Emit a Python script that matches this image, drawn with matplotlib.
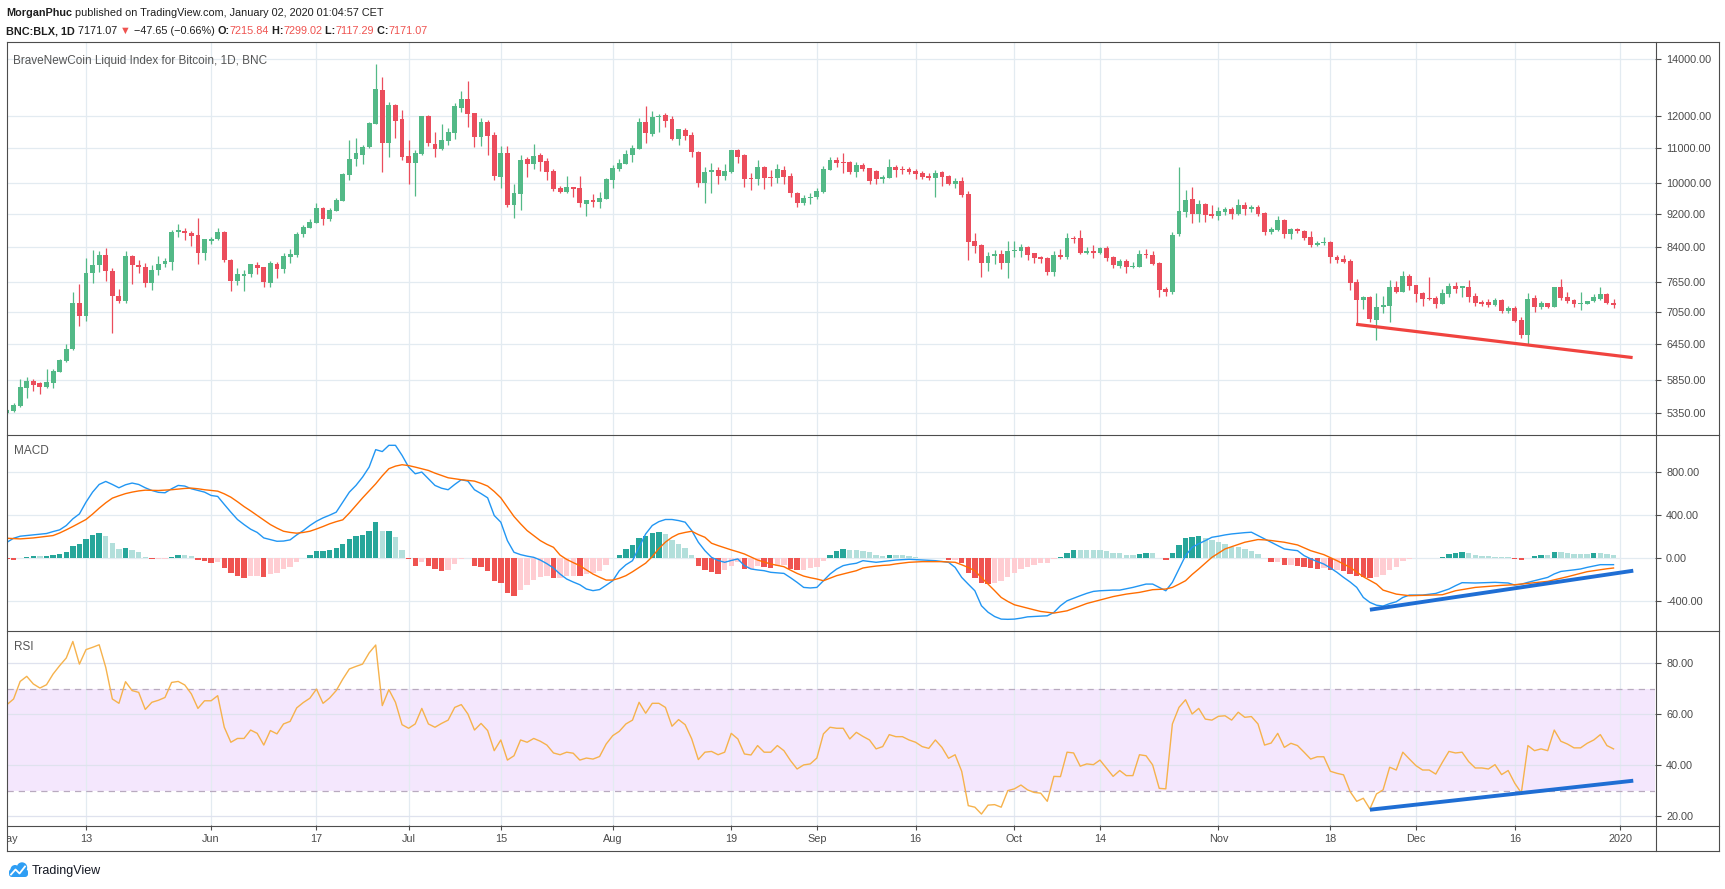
import numpy as np
import matplotlib
matplotlib.use("Agg")
import matplotlib.pyplot as plt
from matplotlib.patches import Circle, FancyBboxPatch
from matplotlib.ticker import NullLocator

# ---- data: BNC:BLX daily candles, 2019-05-01 .. 2019-12-31 (one entry per day)
opens = [
    5350, 5390, 5457, 5736, 5840, 5804, 5751, 5815, 5991, 6173,
    6366, 7213, 6976, 7826, 7998, 8218, 7883, 7366, 7265, 8195,
    8012, 7962, 7630, 7897, 8026, 8078, 8756, 8787, 8732, 8686,
    8278, 8553, 8592, 8756, 8114, 7671, 7770, 7812, 8005, 7962,
    7630, 8026, 7918, 8188, 8225, 8700, 8852, 8981, 9347, 9063,
    9280, 9535, 10232, 10669, 10805, 11020, 11757, 12876, 11142, 12365,
    11900, 10765, 10572, 10824, 12000, 11120, 10980, 11220, 11467, 12280,
    12567, 12100, 11340, 11806, 11397, 10177, 10843, 9432, 9718, 10678,
    10543, 10785, 10620, 10334, 9859, 9762, 9886, 9859, 9448, 9552,
    9500, 9587, 10093, 10400, 10543, 10805, 10981, 11806, 11433, 11960,
    12030, 11900, 11276, 11552, 11397, 10882, 10012, 10295, 10362, 10204,
    10316, 10940, 10794, 10139, 10104, 10446, 10168, 10150, 10362, 10186,
    9727, 9482, 9600, 9622, 9771, 10362, 10649, 10591, 10591, 10315,
    10505, 10418, 10334, 10104, 10150, 10446, 10400, 10400, 10334, 10278,
    10186, 10131, 10307, 10186, 9985, 10058, 9700, 8545, 8450, 8055,
    8203, 8247, 8055, 8315, 8323, 8398, 8262, 8188, 8166, 7862,
    8225, 8188, 8608, 8608, 8277, 8315, 8262, 8390, 8188, 7983,
    8092, 7969, 7969, 8247, 8225, 8055, 7507, 7446, 8710, 9250,
    9578, 9203, 9448, 9195, 9145, 9245, 9320, 9203, 9424, 9330,
    9373, 9220, 8764, 8803, 9046, 8710, 8827, 8788, 8647, 8459,
    8490, 8521, 8188, 8136, 8092, 7643, 7279, 7346, 6894, 7143,
    7162, 7533, 7446, 7770, 7574, 7420, 7326, 7326, 7206, 7400,
    7561, 7520, 7540, 7359, 7246, 7240, 7180, 7279, 7072, 7123,
    6894, 6619, 7313, 7149, 7213, 7149, 7540, 7333, 7286, 7200,
    7206, 7266, 7299, 7400, 7215.84]
highs = [
    5410, 5506, 5867, 5911, 5867, 5830, 6034, 6034, 6200, 6460,
    7433, 7600, 8150, 8338, 8315, 8375, 7950, 7493, 8315, 8230,
    8120, 8041, 8005, 8203, 8150, 8803, 8950, 8840, 8780, 9087,
    8600, 8647, 8852, 8770, 8130, 7940, 7897, 8026, 8070, 7969,
    8085, 8070, 8262, 8360, 8756, 8925, 9080, 9474, 9380, 9347,
    9600, 10270, 11230, 11290, 11100, 11806, 13820, 13330, 12470, 12400,
    12200, 11230, 10950, 12000, 12030, 11480, 11740, 11610, 12430, 12850,
    13190, 12100, 11940, 11870, 11500, 11050, 11070, 9985, 10800, 10745,
    11120, 10843, 10700, 10400, 9920, 10195, 9900, 10195, 9552, 9710,
    9760, 10150, 10500, 10690, 10940, 11100, 11950, 12330, 12150, 12070,
    12100, 11990, 11585, 11600, 11480, 10900, 10456, 10553, 10456, 10533,
    10950, 10960, 10824, 10269, 10660, 10475, 10362, 10533, 10475, 10269,
    9770, 9680, 9727, 9860, 10480, 10745, 10730, 10843, 10620, 10600,
    10553, 10430, 10362, 10220, 10670, 10505, 10475, 10456, 10400, 10325,
    10269, 10362, 10343, 10230, 10130, 10160, 9780, 8725, 8470, 8300,
    8338, 8338, 8545, 8545, 8480, 8430, 8280, 8200, 8188, 8315,
    8368, 8725, 8670, 8803, 8398, 8445, 8413, 8430, 8200, 8130,
    8130, 8070, 8338, 8360, 8315, 8070, 7530, 8750, 10456, 9815,
    9904, 9552, 9470, 9430, 9380, 9380, 9380, 9585, 9510, 9420,
    9420, 9250, 8884, 9146, 9060, 8860, 8850, 8800, 8780, 8540,
    8630, 8540, 8220, 8225, 8130, 7700, 7360, 7360, 7413, 7360,
    7685, 7660, 7880, 7810, 7590, 7430, 7755, 7360, 7500, 7616,
    7640, 7570, 7685, 7413, 7279, 7290, 7320, 7290, 7160, 7160,
    6957, 7425, 7380, 7250, 7226, 7547, 7700, 7440, 7299, 7440,
    7266, 7390, 7547, 7413, 7299.02]
lows = [
    5335, 5374, 5443, 5582, 5690, 5643, 5736, 5736, 5980, 6150,
    6355, 6788, 6875, 7630, 7855, 7671, 6660, 7226, 7226, 7595,
    7826, 7547, 7480, 7790, 7969, 7897, 8647, 8569, 8430, 8033,
    8114, 8466, 8560, 8078, 7467, 7590, 7467, 7755, 7805, 7540,
    7540, 7735, 7840, 8050, 8188, 8630, 8852, 8965, 8920, 9030,
    9280, 9520, 10084, 10475, 10533, 10990, 11740, 10315, 10745, 11300,
    10649, 9985, 9660, 10790, 11060, 10745, 10950, 11080, 11280, 12130,
    11650, 11020, 11060, 10790, 10084, 9880, 9380, 9104, 9296, 10177,
    10400, 10334, 10084, 9800, 9727, 9745, 9639, 9380, 9155, 9360,
    9345, 9580, 9860, 10340, 10543, 10600, 10981, 11142, 11370, 11480,
    11660, 11243, 11100, 11243, 10745, 9904, 9480, 9727, 9985, 10084,
    10269, 10553, 9904, 9815, 9950, 9840, 9930, 10003, 9985, 9620,
    9380, 9420, 9460, 9590, 9745, 10362, 10456, 10269, 10250, 10177,
    10343, 9985, 9985, 9994, 10150, 10177, 10250, 10250, 10103, 10103,
    10084, 9640, 9920, 9960, 9860, 9640, 8114, 8262, 7755, 7880,
    8026, 7910, 7730, 8188, 8188, 8114, 8041, 8041, 7790, 7770,
    8130, 8130, 8490, 8247, 8247, 8150, 8247, 8100, 7930, 7940,
    7840, 7950, 7969, 8150, 8000, 7330, 7350, 7400, 8650, 9110,
    8965, 9000, 9000, 9100, 9050, 9180, 9080, 9170, 9170, 9250,
    9145, 8690, 8710, 8790, 8610, 8585, 8725, 8569, 8398, 8430,
    8445, 8041, 8041, 8041, 7480, 6813, 7110, 6860, 6528, 7020,
    6860, 7413, 7430, 7480, 7246, 7160, 7279, 7120, 7190, 7346,
    7413, 7346, 7240, 7160, 7160, 7150, 7160, 7020, 7020, 6850,
    6570, 6460, 7050, 7100, 7130, 7135, 7270, 7210, 7150, 7084,
    7190, 7246, 7280, 7200, 7117.29]
closes = [
    5398, 5472, 5741, 5840, 5778, 5751, 5820, 6001, 6184, 6372,
    7213, 6976, 7826, 7998, 8218, 7883, 7366, 7265, 8195, 8012,
    7962, 7630, 7897, 8026, 8092, 8756, 8803, 8732, 8670, 8278,
    8592, 8592, 8756, 8114, 7671, 7812, 7812, 8026, 7947, 7650,
    8055, 7918, 8203, 8247, 8709, 8884, 8997, 9347, 9079, 9296,
    9552, 10250, 10678, 10853, 11020, 11786, 12914, 11142, 12365, 11849,
    10745, 10572, 10843, 12000, 11164, 10980, 11243, 11501, 12330, 12567,
    12066, 11340, 11806, 11372, 10205, 10843, 9432, 9727, 10649, 10543,
    10765, 10600, 10315, 9841, 9762, 9886, 9841, 9482, 9552, 9500,
    9604, 10112, 10418, 10553, 10824, 11001, 11806, 11467, 11968, 12000,
    11849, 11276, 11585, 11372, 10872, 10012, 10307, 10362, 10204, 10334,
    10940, 10745, 10121, 10104, 10446, 10150, 10150, 10390, 10177, 9727,
    9482, 9613, 9639, 9797, 10390, 10649, 10572, 10572, 10315, 10505,
    10400, 10066, 10104, 10177, 10446, 10362, 10362, 10307, 10250, 10177,
    10131, 10278, 10177, 9985, 10058, 9683, 8521, 8430, 8055, 8203,
    8247, 8055, 8315, 8338, 8398, 8225, 8166, 8136, 7862, 8225,
    8188, 8616, 8585, 8262, 8315, 8277, 8390, 8166, 8005, 8092,
    7969, 7983, 8247, 8225, 8026, 7480, 7446, 8686, 9266, 9552,
    9203, 9448, 9170, 9145, 9270, 9320, 9203, 9432, 9314, 9373,
    9203, 8764, 8827, 9046, 8710, 8827, 8788, 8624, 8459, 8505,
    8521, 8188, 8114, 8063, 7630, 7279, 7346, 6907, 7143, 7180,
    7533, 7446, 7770, 7567, 7406, 7299, 7299, 7206, 7420, 7561,
    7507, 7554, 7346, 7226, 7206, 7180, 7286, 7072, 7123, 6875,
    6619, 7299, 7149, 7226, 7149, 7540, 7326, 7266, 7194, 7220,
    7266, 7346, 7400, 7219, 7171.07]

macd = [
    149, 186, 205, 211, 217, 222, 230, 248, 264, 304,
    366, 412, 521, 614, 685, 713, 685, 654, 682, 698,
    685, 654, 629, 612, 608, 645, 676, 670, 645, 630,
    614, 583, 574, 500, 428, 360, 313, 270, 240, 189,
    174, 158, 160, 171, 217, 257, 304, 344, 375, 400,
    428, 521, 614, 676, 753, 846, 1008, 990, 1048, 1048,
    955, 846, 784, 800, 738, 676, 650, 636, 685, 729,
    716, 636, 600, 561, 397, 335, 164, 56, 34, 20,
    9, -16, -50, -90, -146, -192, -220, -245, -285, -300,
    -290, -250, -208, -115, -60, -22, 102, 226, 304, 340,
    360, 360, 350, 335, 257, 149, 71, 9, -20, -37,
    -20, -6, -68, -99, -108, -115, -130, -135, -140, -180,
    -223, -270, -275, -270, -208, -146, -100, -68, -55, -46,
    -22, -30, -37, -30, -22, -16, -12, -9, -12, -16,
    -19, -22, -30, -37, -84, -177, -240, -301, -440, -500,
    -540, -564, -566, -564, -555, -543, -540, -536, -533, -502,
    -440, -394, -370, -347, -325, -307, -301, -298, -295, -295,
    -283, -270, -255, -239, -239, -270, -301, -223, -99, 25,
    102, 135, 164, 195, 205, 217, 226, 232, 238, 242,
    211, 180, 149, 118, 87, 78, 71, 25, -5, -30,
    -53, -90, -130, -177, -220, -270, -363, -409, -435, -443,
    -420, -403, -363, -341, -341, -341, -333, -326, -305, -285,
    -254, -226, -228, -229, -227, -225, -223, -226, -229, -248,
    -240, -223, -208, -192, -177, -145, -122, -115, -107, -99,
    -84, -72, -59, -59, -59]
signal = [
    186, 183, 180, 184, 189, 196, 203, 211, 235, 264,
    295, 328, 360, 410, 465, 515, 558, 580, 600, 614,
    625, 632, 631, 629, 632, 636, 642, 648, 651, 645,
    636, 630, 623, 598, 567, 525, 480, 440, 397, 355,
    313, 280, 251, 240, 233, 240, 251, 272, 295, 320,
    340, 357, 420, 490, 560, 625, 691, 765, 831, 855,
    868, 860, 846, 830, 815, 790, 768, 747, 738, 729,
    722, 716, 695, 670, 620, 561, 475, 388, 320, 257,
    210, 164, 130, 102, 30, -10, -40, -68, -108, -146,
    -175, -202, -202, -185, -161, -125, -85, -45, 15, 90,
    150, 195, 226, 240, 251, 220, 195, 140, 118, 98,
    78, 60, 40, 12, -16, -35, -53, -66, -78, -110,
    -140, -165, -180, -192, -208, -185, -161, -145, -130, -115,
    -90, -80, -72, -66, -62, -52, -44, -37, -34, -31,
    -31, -31, -31, -34, -37, -60, -85, -115, -180, -239,
    -300, -363, -400, -431, -447, -462, -478, -493, -500, -508,
    -498, -487, -465, -442, -419, -403, -388, -370, -355, -343,
    -332, -324, -316, -303, -291, -288, -285, -270, -240, -208,
    -150, -99, -45, 9, 48, 87, 108, 128, 149, 162,
    174, 171, 165, 157, 149, 137, 124, 98, 71, 52,
    34, 6, -22, -53, -84, -128, -171, -205, -239, -295,
    -313, -332, -340, -347, -345, -343, -341, -340, -338, -320,
    -301, -291, -280, -270, -265, -260, -254, -251, -248, -245,
    -239, -233, -227, -220, -214, -200, -185, -171, -155, -140,
    -124, -115, -105, -97, -90]
hist = [
    -10, -15, 3, 9, 19, 17, 25, 34, 40, 62,
    112, 133, 180, 217, 236, 208, 143, 87, 96, 78,
    62, 12, -9, -9, -5, 12, 31, 28, 19, -15,
    -25, -40, -38, -87, -140, -161, -183, -161, -160, -171,
    -146, -133, -102, -78, -31, 3, 31, 71, 72, 75,
    96, 133, 180, 211, 217, 254, 338, 251, 254, 198,
    78, -9, -68, -31, -68, -102, -115, -105, -50, -5,
    0, -68, -78, -115, -208, -229, -322, -347, -291, -248,
    -198, -171, -161, -183, -183, -161, -161, -165, -146, -140,
    -115, -62, 0, 34, 87, 124, 189, 208, 236, 245,
    226, 171, 133, 96, 31, -68, -109, -124, -146, -109,
    -71, -31, -99, -99, -68, -84, -90, -71, -59, -99,
    -109, -109, -93, -78, -22, 31, 65, 84, 78, 78,
    65, 56, 31, 19, 31, 31, 31, 19, 9, 3,
    3, 6, 0, -15, -15, -46, -136, -183, -226, -239,
    -229, -208, -171, -136, -99, -78, -59, -40, -40, -9,
    15, 50, 78, 78, 78, 78, 78, 65, 50, 50,
    31, 31, 40, 50, 50, 3, -15, 50, 124, 189,
    195, 208, 189, 171, 149, 133, 109, 102, 87, 65,
    40, 0, -31, -31, -59, -59, -68, -81, -87, -99,
    -90, -109, -109, -121, -146, -161, -171, -183, -171, -152,
    -105, -78, -22, -3, 3, 3, 3, 5, 15, 40,
    53, 62, 50, 34, 25, 22, 15, 12, 9, -3,
    -15, 3, 19, 31, 31, 59, 59, 50, 40, 40,
    40, 50, 50, 37, 31]
rsi = [
    63.8, 66.0, 72.9, 74.9, 71.9, 70.3, 71.6, 75.8, 79.1, 82.1,
    88.6, 79.7, 85.4, 86.3, 87.3, 78.4, 66.0, 64.3, 72.8, 69.3,
    68.6, 61.9, 64.7, 65.5, 66.6, 72.5, 72.9, 71.5, 68.0, 62.3,
    65.3, 65.3, 67.3, 54.9, 49.0, 50.5, 50.5, 53.8, 52.5, 47.9,
    53.6, 52.3, 56.2, 57.2, 62.5, 64.6, 66.3, 69.9, 64.3, 66.4,
    69.3, 73.8, 77.8, 78.8, 79.7, 84.1, 87.2, 63.4, 69.7, 64.7,
    55.9, 54.5, 56.2, 62.3, 56.2, 54.9, 56.4, 57.7, 62.7, 63.8,
    60.1, 53.8, 56.4, 53.6, 45.7, 49.9, 42.0, 43.7, 49.9, 49.0,
    50.5, 49.4, 47.9, 44.8, 44.1, 45.1, 44.7, 42.0, 42.8, 42.4,
    43.4, 48.3, 51.6, 53.3, 56.2, 57.7, 64.7, 60.4, 64.3, 64.3,
    62.7, 55.3, 57.9, 55.9, 50.3, 42.2, 45.1, 45.4, 44.1, 45.1,
    52.5, 50.3, 44.4, 44.0, 47.7, 45.1, 45.1, 47.7, 45.7, 41.8,
    38.5, 40.1, 40.5, 42.8, 52.3, 54.9, 54.5, 54.5, 50.3, 52.9,
    51.3, 49.9, 46.4, 47.3, 52.0, 51.2, 51.2, 49.9, 49.0, 47.3,
    46.6, 49.9, 47.0, 42.7, 44.1, 37.6, 24.1, 23.5, 20.8, 24.3,
    24.5, 23.5, 30.0, 30.7, 32.2, 30.3, 29.3, 29.0, 25.8, 35.6,
    35.5, 45.1, 44.8, 39.6, 40.5, 40.2, 42.0, 38.8, 35.6, 37.9,
    35.9, 35.9, 44.1, 43.7, 40.1, 30.9, 30.7, 56.2, 62.7, 65.7,
    60.1, 62.3, 58.1, 57.7, 59.2, 59.4, 57.7, 60.8, 58.8, 59.1,
    56.2, 47.9, 48.7, 52.5, 47.0, 48.6, 47.7, 45.1, 42.4, 43.3,
    43.3, 37.6, 36.8, 36.2, 29.6, 25.8, 27.0, 22.8, 28.7, 30.3,
    39.2, 38.1, 45.1, 42.4, 39.8, 38.1, 38.1, 36.5, 41.1, 45.4,
    44.8, 45.1, 41.4, 38.9, 38.9, 38.5, 40.2, 36.3, 37.9, 32.9,
    29.1, 47.7, 45.7, 46.4, 45.7, 53.8, 49.4, 48.3, 46.8, 46.8,
    48.6, 49.9, 52.0, 47.7, 46.4]

# hand-drawn trend lines (day index, value)
price_trend_x = [204.9, 246.9]
price_trend_y = [6813, 6224]
macd_trend_x = [207, 247]
macd_trend_y = [-477, -115]
rsi_trend_x = [207, 247]
rsi_trend_y = [22.5, 33.9]

# time axis labels (day index from 2019-05-01)
date_pos = [0, 12, 31, 47, 61, 75, 92, 110, 123, 138, 153, 166, 184, 201, 214, 229, 245]
date_lab = ["May", "13", "Jun", "17", "Jul", "15", "Aug", "19", "Sep", "16",
            "Oct", "14", "Nov", "18", "Dec", "16", "2020"]

price_ticks = [5350, 5850, 6450, 7050, 7650, 8400, 9200, 10000, 11000, 12000, 14000]
macd_ticks = [-400, 0, 400, 800]
rsi_ticks = [20, 40, 60, 80]

# ---- style
FONT = ["Liberation Sans", "DejaVu Sans"]
plt.rcParams["font.family"] = FONT
UP, DOWN = "#53b987", "#eb4d5c"
GRID = "#e3ebf1"
FRAME = "#4d4d4d"
TXT = "#4a4a4a"
DARK = "#1e1e1e"
RED = "#ef5350"
FS = 7.8

W, H = 1725, 889
fig = plt.figure(figsize=(W / 100, H / 100), dpi=100)
fig.patch.set_facecolor("white")


def rect(x0, y0, x1, y1):
    return [x0 / W, 1 - y1 / H, (x1 - x0) / W, (y1 - y0) / H]


XMIN, XMAX = 0.0, 250.3
x = np.arange(len(closes))
o, h, l, c = map(np.array, (opens, highs, lows, closes))

ax_p = fig.add_axes(rect(7, 42, 1655, 434))
ax_m = fig.add_axes(rect(7, 434, 1655, 630))
ax_r = fig.add_axes(rect(7, 630, 1655, 825))
ax_t = fig.add_axes(rect(7, 825, 1655, 850))

for ax in (ax_p, ax_m, ax_r, ax_t):
    ax.set_xlim(XMIN, XMAX)
    for s in ax.spines.values():
        s.set_visible(False)
    ax.set_xticks([])
    ax.tick_params(axis="y", which="both", right=True, left=False,
                   labelright=True, labelleft=False, direction="out",
                   length=4, width=0.8, color=FRAME, labelcolor=TXT,
                   labelsize=FS, pad=4)

for ax in (ax_p, ax_m, ax_r):
    for p in date_pos[1:]:
        ax.axvline(p, color=GRID, lw=0.9, zorder=0.5)

# price pane
ax_p.set_yscale("log")
ax_p.set_ylim(5057, 14673)
ax_p.yaxis.set_minor_locator(NullLocator())
ax_p.set_yticks(price_ticks)
ax_p.set_yticklabels([f"{v:.2f}" for v in price_ticks])
for v in price_ticks:
    ax_p.axhline(v, color=GRID, lw=0.9, zorder=0.5)

col = np.where(c >= o, UP, DOWN)
ax_p.vlines(x, l, h, colors=col, lw=0.9, zorder=2)
lo_b = np.minimum(o, c)
hi_b = np.maximum(np.maximum(o, c), lo_b * 1.003)
ax_p.bar(x, hi_b - lo_b, bottom=lo_b, width=0.74, color=col, lw=0, zorder=3)
ax_p.plot(price_trend_x, price_trend_y, color="#f0433f", lw=2.3,
          solid_capstyle="butt", zorder=4)

# MACD pane
ax_m.set_ylim(-665, 1153)
ax_m.set_yticks(macd_ticks)
ax_m.set_yticklabels([f"{v:.2f}" for v in macd_ticks])
for v in macd_ticks:
    ax_m.axhline(v, color=GRID, lw=0.9, zorder=0.5)
hv = np.array(hist, dtype=float)
prev = np.r_[hv[0] + 1, hv[:-1]]
hcol = np.where(hv >= 0, np.where(hv > prev, "#26a69a", "#b2dfdb"),
                np.where(hv < prev, "#ef5350", "#ffcdd2"))
ax_m.bar(x, hv, width=0.82, color=hcol, lw=0, zorder=2)
ax_m.plot(x, macd, color="#2196f3", lw=1.0, zorder=3)
ax_m.plot(x, signal, color="#ff6d00", lw=1.0, zorder=3)
ax_m.plot(macd_trend_x, macd_trend_y, color="#1f6ed4", lw=2.8,
          solid_capstyle="butt", zorder=4)

# RSI pane
ax_r.set_ylim(16.5, 93.1)
ax_r.set_yticks(rsi_ticks)
ax_r.set_yticklabels([f"{v:.2f}" for v in rsi_ticks])
ax_r.axhspan(30, 70, color="#f4e7fd", lw=0, zorder=0.2)
for v in rsi_ticks:
    ax_r.axhline(v, color="#dfe2ee", lw=0.9, zorder=0.5)
for v in (30, 70):
    ax_r.axhline(v, color="#b8aabf", lw=0.9, ls=(0, (5, 4)), zorder=0.6)
ax_r.plot(x, rsi, color="#f6b24c", lw=1.0, zorder=3)
ax_r.plot(rsi_trend_x, rsi_trend_y, color="#1f6ed4", lw=2.8,
          solid_capstyle="butt", zorder=4)

# time axis
ax_t.set_ylim(0, 1)
ax_t.set_yticks([])
xt = ax_t.get_xaxis_transform()
ax_t.vlines(date_pos[1:], 0.82, 1.0, transform=xt, color=FRAME, lw=0.8)
for p, lab in zip(date_pos, date_lab):
    ax_t.text(p, 0.42, lab, transform=xt, ha="center", va="center",
              fontsize=FS, color=TXT, clip_on=True)

# ---- overlay in pixel coordinates: frame, titles, header, logo
ov = fig.add_axes([0, 0, 1, 1], zorder=10)
ov.set_xlim(0, W)
ov.set_ylim(H, 0)
ov.axis("off")
ov.patch.set_alpha(0)

lw_px = 0.8
for yy in (41.5, 434.5, 630.5, 825.5, 850.5):
    ov.plot([6.5, 1718.5], [yy, yy], color=FRAME, lw=lw_px)
for xx in (6.5, 1655.5, 1718.5):
    ov.plot([xx, xx], [41.5, 850.5], color=FRAME, lw=lw_px)

TITLE = "#555555"
ov.text(13, 61, "BraveNewCoin Liquid Index for Bitcoin, 1D, BNC", fontsize=8.5,
        color=TITLE, va="center", ha="left")
ov.text(14, 451, "MACD", fontsize=8.5, color=TITLE, va="center", ha="left")
ov.text(14, 647, "RSI", fontsize=8.5, color=TITLE, va="center", ha="left")

renderer = fig.canvas.get_renderer()


def text_width(s, **kw):
    t1 = ov.text(0, 0, "|" + s + "|", **kw)
    t2 = ov.text(0, 0, "||", **kw)
    w = t1.get_window_extent(renderer).width - t2.get_window_extent(renderer).width
    t1.remove()
    t2.remove()
    return w


def write_line(parts, x0, y0, size):
    xx = x0
    for s, color, weight in parts:
        kw = dict(fontsize=size, color=color, fontweight=weight)
        ov.text(xx, y0, s, va="center", ha="left", **kw)
        xx += text_width(s, **kw)


line1 = [("MorganPhuc", DARK, "bold"),
         (" published on TradingView.com, January 02, 2020 01:04:57 CET", DARK, "normal")]
line2 = [("BNC:BLX, 1D", DARK, "bold"), (" 7171.07 ", DARK, "normal"),
         ("\u25bc", RED, "normal"), (" \u221247.65 (\u22120.66%) ", DARK, "normal"),
         ("O:", DARK, "bold"), ("7215.84", RED, "normal"),
         (" H:", DARK, "bold"), ("7299.02", RED, "normal"),
         (" L:", DARK, "bold"), ("7117.29", RED, "normal"),
         (" C:", DARK, "bold"), ("7171.07", RED, "normal")]
write_line(line1, 6, 13.5, 7.8)
write_line(line2, 6, 31, 7.8)

# TradingView logo
blue = "#2e9ef4"
ov.add_patch(FancyBboxPatch((9, 869), 19, 8, boxstyle="round,pad=0,rounding_size=3",
                            fc=blue, ec="none"))
ov.add_patch(Circle((15, 869.5), 4.5, fc=blue, ec="none"))
ov.add_patch(Circle((22, 867.5), 5.2, fc=blue, ec="none"))
ov.plot([11, 15.5, 19.5, 25], [874.5, 869.5, 873.5, 866.5], color="white", lw=1.3)
ov.text(32, 871, "TradingView", fontsize=9, color="#131722", va="center", ha="left")

fig.savefig("out.png", dpi=100, facecolor="white")
